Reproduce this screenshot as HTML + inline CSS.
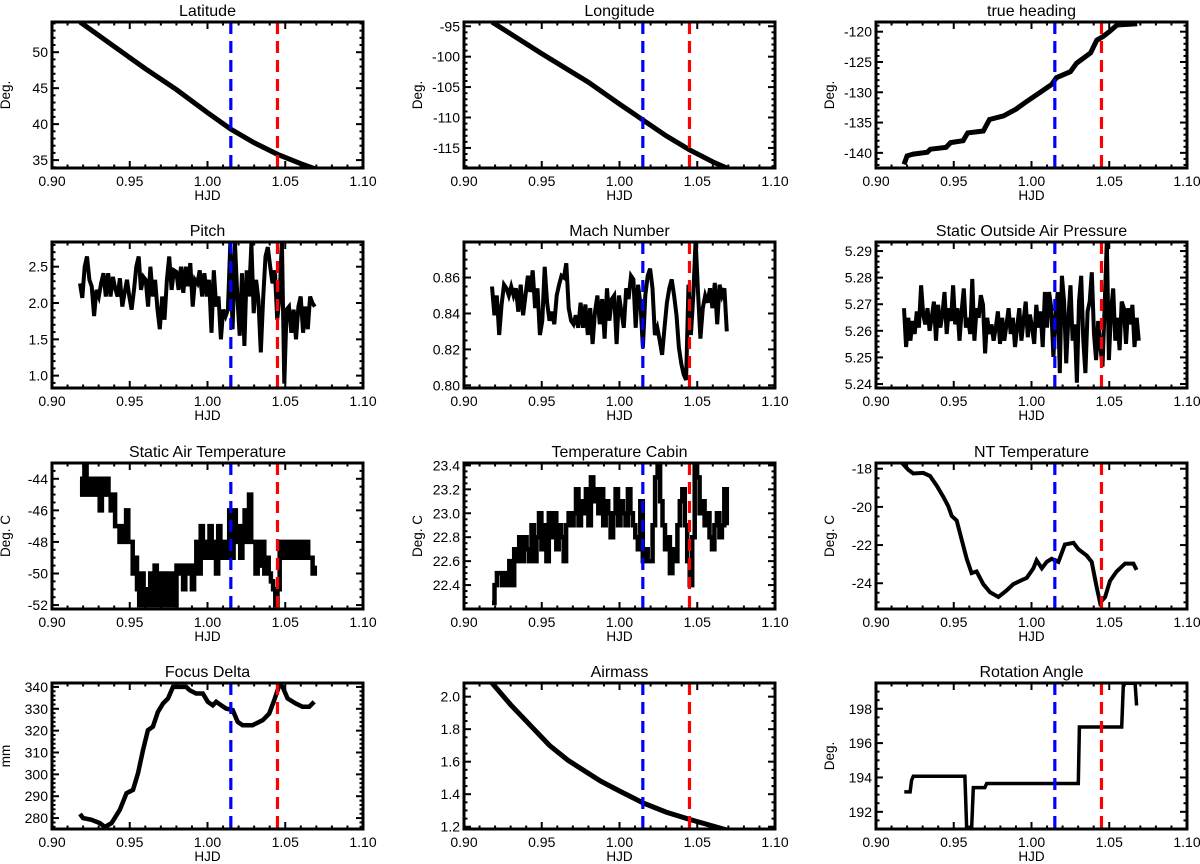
<!DOCTYPE html>
<html><head><meta charset="utf-8"><style>
html,body{margin:0;padding:0;background:#fff;}
svg{display:block;font-family:"Liberation Sans",Arial,sans-serif;}
</style></head><body>
<svg id="fig" width="1200" height="864" viewBox="0 0 1200 864" xmlns="http://www.w3.org/2000/svg"></svg>
<script>
// ---------- data ----------
const xTicks = [0.90, 0.95, 1.00, 1.05, 1.10];
const blueLineHJD = 1.015;
const redLineHJD = 1.045;

const latT = [0.918,0.94,0.96,0.98,1.0,1.015,1.03,1.045,1.06,1.069];
const latV = [54.2,50.8,47.7,44.8,41.6,39.3,37.4,35.8,34.5,33.8];
const lonT = [0.918,0.95,0.98,1.0,1.015,1.03,1.045,1.06,1.069];
const lonV = [-94.3,-99.5,-104.2,-107.8,-110.4,-113,-115.3,-117.3,-118.3];
const headT = [0.918,0.920,0.924,0.933,0.935,0.945,0.948,0.956,0.959,0.969,0.973,0.982,0.990,0.997,1.005,1.013,1.016,1.025,1.029,1.038,1.042,1.046,1.050,1.055,1.068];
const headV = [-141.9,-140.5,-140.2,-139.9,-139.4,-139.1,-138.3,-138.0,-136.7,-136.4,-134.5,-133.9,-132.8,-131.5,-130.1,-128.7,-127.6,-126.6,-125.2,-123.5,-121.4,-120.8,-120,-118.9,-118.7];

const seriesStart = 0.918;
const seriesEnd = 1.069;
const pitchV = [2.27,2.07,2.5,2.64,2.32,2.23,1.82,2.18,2.09,2.27,2.41,2.09,2.41,2.09,2.36,2.2,2.09,2.34,1.95,2.14,2.32,2.09,1.91,2.18,2.5,2.64,2.18,2.36,2.32,1.95,2.5,2.09,2.32,1.91,1.64,2.09,1.77,2.32,2.64,2.18,2.45,2.43,2.18,2.5,2.14,2.5,2.23,2.55,1.95,2.32,2.27,2.45,2.09,2.41,2.09,2.32,1.59,2.45,1.95,2.09,1.5,1.91,1.82,1.91,2.82,1.64,2.82,2.09,1.55,2.41,1.41,2.45,2.09,2.82,1.86,2.32,2.05,1.32,2.05,2.64,2.77,2.5,2.27,2.45,1.77,2.09,2.86,0.89,1.91,1.95,1.59,1.91,1.5,1.95,2.09,1.59,1.95,1.64,2.09,2.0,1.95];
const machV = [0.855,0.839,0.850,0.828,0.845,0.856,0.854,0.850,0.855,0.850,0.854,0.841,0.856,0.839,0.850,0.861,0.852,0.864,0.843,0.854,0.828,0.836,0.866,0.846,0.836,0.841,0.834,0.850,0.856,0.861,0.860,0.868,0.843,0.836,0.834,0.839,0.832,0.846,0.832,0.845,0.828,0.843,0.823,0.841,0.850,0.834,0.848,0.826,0.854,0.836,0.848,0.850,0.823,0.850,0.841,0.832,0.854,0.848,0.861,0.859,0.832,0.856,0.845,0.821,0.850,0.861,0.865,0.854,0.828,0.832,0.825,0.817,0.832,0.846,0.854,0.859,0.850,0.839,0.821,0.812,0.806,0.803,0.856,0.828,0.850,0.881,0.852,0.826,0.843,0.850,0.846,0.854,0.843,0.857,0.834,0.856,0.850,0.854,0.830];
const pressV = [5.2685,5.2539,5.2649,5.2563,5.2637,5.2588,5.2673,5.2612,5.2771,5.2661,5.2624,5.2685,5.26,5.2649,5.271,5.2563,5.2698,5.2612,5.2661,5.2746,5.2588,5.2685,5.2637,5.2771,5.2624,5.2685,5.2563,5.2673,5.2759,5.2612,5.2649,5.2588,5.2795,5.2563,5.2685,5.2649,5.2734,5.2698,5.2515,5.2649,5.2588,5.2624,5.2563,5.2612,5.2673,5.2551,5.2649,5.2563,5.2624,5.2685,5.2588,5.2649,5.2539,5.2612,5.2685,5.2563,5.2637,5.271,5.2576,5.2661,5.2612,5.2551,5.2698,5.2612,5.2673,5.2539,5.2746,5.2612,5.2746,5.2685,5.2502,5.2649,5.2746,5.2441,5.2807,5.271,5.2478,5.2649,5.2771,5.2563,5.2624,5.2405,5.271,5.2807,5.2563,5.2441,5.2673,5.271,5.282,5.2588,5.249,5.2637,5.2539,5.2466,5.2685,5.2941,5.249,5.2673,5.2759,5.2563,5.2649,5.2527,5.271,5.2685,5.2551,5.2685,5.2624,5.2698,5.2539,5.2649,5.2563];
const satV = [-44,-45,-43,-45,-44,-45,-44,-45,-44,-46,-44,-45,-44,
 -45,-46,-45,-47,
 -47,-48,-47,-48,-46,-48,
 -48,-50,-49,
 -51,-52,-50,-52,-51,-52,
 -50,-52,-49.5,-52,-50,-52,-50,-52,-50,-52,-50,-52,
 -49.5,-50,-49.5,-51,-49.5,-50,-49.5,-51,-49.5,
 -48,-50,-47,-49,-48,-49,-47,-49,-48,-50,-47,-49,-48,-49,
 -48,-46,-49,-46,-48,-47,-49,-47,-46,-48,-45,-48,
 -48,-50,-48,-49.5,-48,-50,-49,-50,-50.5,
 -51,-52,-51,
 -48,-49,-48,-49,-48,-49,-48,-49,-48,-49,-48,-49,-48,-49,
 -49,-50,-49.5];
const cabinV = [22.25,22.4,22.5,
 22.5,22.4,22.5,22.4,22.6,22.4,
 22.7,22.6,22.8,22.6,22.8,22.7,22.6,22.9,22.6,22.8,
 23.0,22.7,22.9,22.6,23.0,22.8,23.0,22.7,22.9,22.8,22.6,22.9,
 23.0,22.9,23.0,23.2,22.9,23.1,23.0,23.2,22.9,
 23.3,23.1,23.2,
 23.0,23.2,22.9,23.1,23.0,22.8,23.0,23.2,22.9,23.1,23.0,22.9,23.2,23.0,
 22.9,22.8,22.7,
 23.1,22.6,22.7,22.6,22.6,
 22.9,23.3,23.4,23.1,22.9,
 22.7,22.8,22.5,22.7,22.6,22.9,23.1,
 23.2,22.9,22.6,22.4,22.8,
 23.4,23.3,23.0,
 23.1,22.9,23.0,22.8,22.7,22.9,23.0,22.8,22.9,23.2,22.9];
const ntT = [0.9165,0.9208,0.9240,0.9304,0.9347,0.9390,0.9433,0.9465,0.9487,0.9519,0.9551,0.9583,0.9615,0.9647,0.9690,0.9733,0.9787,0.9840,0.9883,0.9926,0.9969,1.0012,1.0033,1.0066,1.0098,1.0130,1.0173,1.0215,1.0270,1.0302,1.0355,1.0387,1.0419,1.0441,1.0473,1.0505,1.0548,1.0601,1.0655,1.0676];
const ntV = [-17.68,-18.05,-18.25,-18.22,-18.38,-18.88,-19.47,-19.97,-20.47,-20.72,-21.72,-22.72,-23.47,-23.38,-24.05,-24.47,-24.72,-24.38,-24.05,-23.88,-23.72,-23.22,-22.80,-23.22,-22.88,-22.72,-22.88,-21.97,-21.88,-22.22,-22.55,-22.88,-24.22,-25.02,-24.72,-23.88,-23.38,-22.97,-22.97,-23.30];
const focusT = [0.918,0.920,0.9254,0.9308,0.934,0.9383,0.9436,0.9479,0.9521,0.9553,0.9585,0.9617,0.9649,0.9681,0.9714,0.9746,0.9778,0.9799,0.9863,0.9885,0.9927,0.997,1.0002,1.0034,1.0056,1.0088,1.012,1.0162,1.0194,1.0226,1.029,1.0355,1.0397,1.0429,1.0462,1.0483,1.0515,1.0568,1.0611,1.0654,1.0686];
const focusV = [281.9,280,279.2,277.7,275.9,277.7,283.8,291.4,292.9,300.5,311.1,320.2,321.8,328.6,332.4,334.7,340,340,340,338.5,337,337,333.2,331.6,333.2,331.6,330.1,329.4,324,322.5,322.5,324.8,327.8,333.9,340.8,340,334.7,332.4,330.9,330.9,333.2];
const airT = [0.918,0.93,0.945,0.955,0.9667,0.978,0.988,1.0,1.015,1.03,1.045,1.058,1.069];
const airV = [2.084,1.95,1.80,1.70,1.61,1.54,1.48,1.42,1.347,1.29,1.245,1.21,1.18];
const rotT = [0.9182,0.9219,0.9229,0.924,0.9572,0.9583,0.9615,0.9626,0.97,0.9712,1.0301,1.0308,1.058,1.0591,1.0666,1.0676];
const rotV = [193.16,193.16,193.84,194.07,194.07,190.97,190.97,193.41,193.41,193.65,193.65,196.94,196.94,199.49,199.49,198.19];

const latTicks=[35,40,45,50], lonTicks=[-95,-100,-105,-110,-115], headTicks=[-120,-125,-130,-135,-140];
const pitchTicks=[1.0,1.5,2.0,2.5], machTicks=[0.80,0.82,0.84,0.86], pressTicks=[5.24,5.25,5.26,5.27,5.28,5.29];
const satTicks=[-44,-46,-48,-50,-52], cabinTicks=[22.4,22.6,22.8,23.0,23.2,23.4], ntTicks=[-18,-20,-22,-24];
const focusTicks=[280,290,300,310,320,330,340], airTicks=[1.2,1.4,1.6,1.8,2.0], rotTicks=[192,194,196,198];

function uni(vals){const n=vals.length;return vals.map((v,i)=>seriesStart+i*(seriesEnd-seriesStart)/(n-1));}

const panels = [
 {key:'latitude',title:'Latitude',ylab:'Deg.',col:0,row:0,y0:33.9,y1:54.2,ticks:latTicks,dec:0,t:latT,v:latV,w:5,minor:5},
 {key:'longitude',title:'Longitude',ylab:'Deg.',col:1,row:0,y0:-118.3,y1:-94.3,ticks:lonTicks,dec:0,t:lonT,v:lonV,w:5,minor:5},
 {key:'true-heading',title:'true heading',ylab:'Deg.',col:2,row:0,y0:-142.5,y1:-118.4,ticks:headTicks,dec:0,t:headT,v:headV,w:5,minor:5},
 {key:'pitch',title:'Pitch',ylab:'',col:0,row:1,y0:0.83,y1:2.84,ticks:pitchTicks,dec:1,t:uni(pitchV),v:pitchV,w:4,minor:5},
 {key:'mach-number',title:'Mach Number',ylab:'',col:1,row:1,y0:0.7985,y1:0.8798,ticks:machTicks,dec:2,t:uni(machV),v:machV,w:4,minor:4},
 {key:'static-pressure',title:'Static Outside Air Pressure',ylab:'',col:2,row:1,y0:5.2385,y1:5.2934,ticks:pressTicks,dec:2,t:uni(pressV),v:pressV,w:4,minor:5},
 {key:'static-air-temp',title:'Static Air Temperature',ylab:'Deg. C',col:0,row:2,y0:-52.25,y1:-43.0,ticks:satTicks,dec:0,t:uni(satV),v:satV,w:4.5,minor:4,step:true},
 {key:'cabin-temp',title:'Temperature Cabin',ylab:'Deg. C',col:1,row:2,y0:22.2,y1:23.42,ticks:cabinTicks,dec:1,t:uni(cabinV),v:cabinV,w:4.5,minor:4,step:true},
 {key:'nt-temp',title:'NT Temperature',ylab:'Deg. C',col:2,row:2,y0:-25.35,y1:-17.7,ticks:ntTicks,dec:0,t:ntT,v:ntV,w:4,minor:4},
 {key:'focus-delta',title:'Focus Delta',ylab:'mm',col:0,row:3,y0:275,y1:341.8,ticks:focusTicks,dec:0,t:focusT,v:focusV,w:4.5,minor:5},
 {key:'airmass',title:'Airmass',ylab:'',col:1,row:3,y0:1.186,y1:2.084,ticks:airTicks,dec:1,t:airT,v:airV,w:5,minor:4},
 {key:'rotation-angle',title:'Rotation Angle',ylab:'Deg.',col:2,row:3,y0:191.0,y1:199.5,ticks:rotTicks,dec:0,t:rotT,v:rotV,w:3.5,minor:4}
];

// ---------- drawing ----------
const NS='http://www.w3.org/2000/svg';
const svg=document.getElementById('fig');
const colX=[52,464,876], rowY=[22,242,463,683], PW=311, PH=146;
function mk(tag,attrs,parent){const e=document.createElementNS(NS,tag);for(const k in attrs)e.setAttribute(k,attrs[k]);(parent||svg).appendChild(e);return e;}

panels.forEach((p,pi)=>{
  const L=colX[p.col], T=rowY[p.row], R=L+PW, B=T+PH;
  const sx=x=>L+(x-0.9)/0.2*PW;
  const sy=y=>B-(y-p.y0)/(p.y1-p.y0)*PH;
  const g=mk('g',{});
  
  
  const cp=mk('clipPath',{id:'clip'+pi},g);
  mk('rect',{x:L,y:T,width:PW,height:PH},cp);
  const tt=mk('text',{x:(L+R)/2,y:T-6,'text-anchor':'middle','font-size':16,fill:'#000'},g);
  tt.textContent=p.title;
  
  
  let d='';
  for(let i=0;i<p.v.length;i++){
    const X=sx(p.t[i]).toFixed(1), Y=sy(p.v[i]).toFixed(1);
    if(i===0) d+='M'+X+' '+Y;
    else if(p.step) d+='H'+X+'V'+Y;
    else d+='L'+X+' '+Y;
  }
  const line=mk('path',{d:d,fill:'none',stroke:'#000','stroke-width':p.w,'stroke-linejoin':'miter','clip-path':'url(#clip'+pi+')'},g);
  
  
  const bl=mk('line',{x1:sx(blueLineHJD),x2:sx(blueLineHJD),y1:T,y2:B,stroke:'#0000ff','stroke-width':3.2,'stroke-dasharray':'12 7'},g);
  
  
  const rl=mk('line',{x1:sx(redLineHJD),x2:sx(redLineHJD),y1:T,y2:B,stroke:'#ff0000','stroke-width':3.2,'stroke-dasharray':'12 7'},g);
  
  
  const fr=mk('rect',{x:L,y:T,width:PW,height:PH,fill:'none',stroke:'#000','stroke-width':3},g);
  
  
  for(let k=0;k<=20;k++){
    const xv=0.9+k*0.01, X=sx(xv), major=(k%5===0), len=major?7:3.5;
    mk('line',{x1:X,x2:X,y1:B,y2:B-len,stroke:'#000','stroke-width':2},g);
    mk('line',{x1:X,x2:X,y1:T,y2:T+len,stroke:'#000','stroke-width':2},g);
  }
  xTicks.forEach(xv=>{
    const t=mk('text',{x:sx(xv),y:B+18,'text-anchor':'middle','font-size':14,fill:'#000'},g);
    t.textContent=xv.toFixed(2);
    
    
  });
  const xl=mk('text',{x:(L+R)/2,y:B+32,'text-anchor':'middle','font-size':13.5,fill:'#000'},g);
  xl.textContent='HJD';
  
  
  const step=p.ticks.length>1?Math.abs(p.ticks[1]-p.ticks[0]):1;
  const lo=Math.min(...p.ticks), ms=step/p.minor;
  for(let k=-3*p.minor;k<=(p.ticks.length+2)*p.minor;k++){
    const yv=lo+k*ms; if(yv<p.y0||yv>p.y1) continue;
    const Y=sy(yv), major=(((k%p.minor)+p.minor)%p.minor===0), len=major?7:3.5;
    mk('line',{x1:L,x2:L+len,y1:Y,y2:Y,stroke:'#000','stroke-width':2},g);
    mk('line',{x1:R,x2:R-len,y1:Y,y2:Y,stroke:'#000','stroke-width':2},g);
  }
  p.ticks.forEach(yv=>{
    const t=mk('text',{x:L-4,y:sy(yv)+5,'text-anchor':'end','font-size':14,fill:'#000'},g);
    t.textContent=yv.toFixed(p.dec);
    
    
  });
  if(p.ylab){
    const yx=L-42, yy=(T+B)/2;
    const yl=mk('text',{x:yx,y:yy,'text-anchor':'middle','font-size':13.5,fill:'#000',transform:'rotate(-90 '+yx+' '+yy+')'},g);
    yl.textContent=p.ylab;
    
    
  }
});
</script>
</body></html>
